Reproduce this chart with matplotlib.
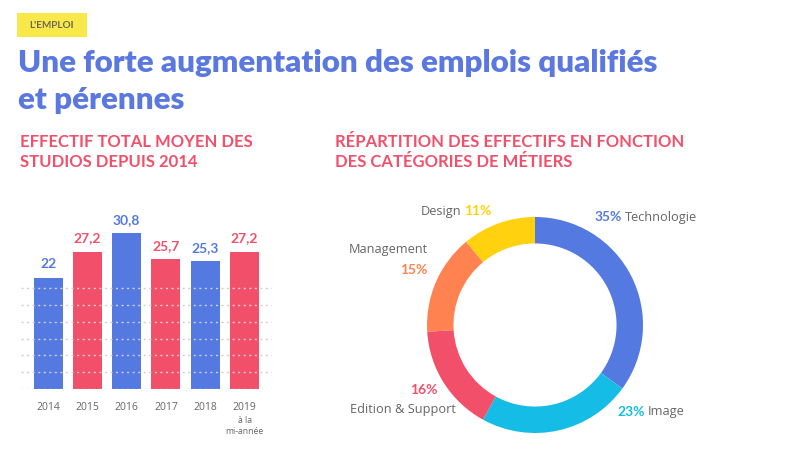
import matplotlib
matplotlib.use("Agg")
import matplotlib.pyplot as plt
from matplotlib.patches import Rectangle
import numpy as np

# ---------------- data ----------------
years = ["2014", "2015", "2016", "2017", "2018", "2019"]
year_notes = ["", "", "", "", "", "à la\nmi-année"]
effectif = [22, 27.2, 30.8, 25.7, 25.3, 27.2]
value_labels = ["22", "27,2", "30,8", "25,7", "25,3", "27,2"]

categories = ["Technologie", "Image", "Edition & Support", "Management", "Design"]
shares = [35, 23, 16, 15, 11]

# ---------------- style ----------------
W, H = 790, 450
BLUE = "#5479E0"
RED = "#F2506A"
CYAN = "#15BDE6"
ORANGE = "#FF8250"
YELLOW = "#FFD10F"
TITLE_BLUE = "#5A78E0"
GRAY = "#666666"
bar_colors = [BLUE, RED, BLUE, RED, BLUE, RED]
donut_colors = [BLUE, CYAN, RED, ORANGE, YELLOW]

TITLE_FONT = ["Lato", "DejaVu Sans"]
BODY_FONT = ["Open Sans", "DejaVu Sans"]

fig = plt.figure(figsize=(W / 100, H / 100), dpi=100)
fig.patch.set_facecolor("white")


def fx(x):
    return x / W


def fy(y):
    return 1 - y / H


# ---------------- header ----------------
fig.patches.append(Rectangle((fx(17), fy(37)), (87 - 17) / W, (37 - 13) / H,
                             transform=fig.transFigure, facecolor="#F8E84A",
                             edgecolor="none"))
fig.text(fx(52), fy(25.5), "L'EMPLOI", fontsize=7.2, fontweight="bold",
         color="#6B6A55", ha="center", va="center", family=TITLE_FONT)

fig.text(fx(18), fy(63), "Une forte augmentation des emplois qualifiés",
         fontsize=22.5, fontweight="heavy", color=TITLE_BLUE, ha="left",
         va="center", family=TITLE_FONT)
fig.text(fx(18), fy(100), "et pérennes",
         fontsize=22.5, fontweight="heavy", color=TITLE_BLUE, ha="left",
         va="center", family=TITLE_FONT)

for x0, lines in [(20, ["EFFECTIF TOTAL MOYEN DES", "STUDIOS DEPUIS 2014"]),
                  (335, ["RÉPARTITION DES EFFECTIFS EN FONCTION",
                         "DES CATÉGORIES DE MÉTIERS"])]:
    for yy, line in zip([142, 162], lines):
        fig.text(fx(x0), fy(yy), line, fontsize=12, fontweight="bold",
                 color=RED, ha="left", va="center", family=TITLE_FONT)

# ---------------- bar chart ----------------
ax_l, ax_r, ax_b, ax_t = 21, 272, 389, 200
ax = fig.add_axes([fx(ax_l), fy(ax_b), (ax_r - ax_l) / W, (ax_b - ax_t) / H])
x = np.arange(len(years))
ax.bar(x, effectif, width=0.74, color=bar_colors, zorder=1)
ax.set_xlim(-0.69, 5.7)
ax.set_ylim(0, (ax_b - ax_t) / 5.05)
for yv in np.arange(0, 21, 10 / 3):
    ax.axhline(yv, color="#D0D0D0", lw=1, ls=(0, (1.5, 2.5)), zorder=2)
for xi, v, lab, c in zip(x, effectif, value_labels, bar_colors):
    ax.text(xi, v + 1.5, lab, ha="center", va="bottom", fontsize=10,
            fontweight="bold", color=c, family=TITLE_FONT)
ax.set_xticks(x)
ax.set_xticklabels(years, fontsize=7.5, color=GRAY, family=BODY_FONT)
ax.tick_params(axis="x", length=0, pad=9)
ax.set_yticks([])
for s in ax.spines.values():
    s.set_visible(False)
for xi, note in zip(x, year_notes):
    if note:
        ax.annotate(note, xy=(xi, 0), xycoords="data", xytext=(0, -19.5),
                    textcoords="offset points", ha="center", va="top",
                    fontsize=6.2, color=GRAY, family=BODY_FONT, linespacing=1.25)

# ---------------- donut ----------------
cx, cy, r = 535, 325, 108
dax = fig.add_axes([fx(cx - r), fy(cy + r), 2 * r / W, 2 * r / H])
dax.pie(shares, colors=donut_colors, startangle=90, counterclock=False,
        wedgeprops=dict(width=0.245, edgecolor="none"), radius=1.0)
dax.set_xlim(-1, 1)
dax.set_ylim(-1, 1)
dax.set_aspect("equal")
dax.axis("off")

pct = [f"{s}%" for s in shares]
fs_pct = 10
fs_lab = 9.2

# Technologie
fig.text(fx(622), fy(217), pct[0], fontsize=fs_pct, fontweight="bold",
         color=BLUE, ha="right", va="center", family=TITLE_FONT)
fig.text(fx(625), fy(217), categories[0], fontsize=fs_lab, color=GRAY,
         ha="left", va="center", family=BODY_FONT)
# Image
fig.text(fx(645), fy(412), pct[1], fontsize=fs_pct, fontweight="bold",
         color=CYAN, ha="right", va="center", family=TITLE_FONT)
fig.text(fx(648), fy(412), categories[1], fontsize=fs_lab, color=GRAY,
         ha="left", va="center", family=BODY_FONT)
# Edition & Support
fig.text(fx(438), fy(390), pct[2], fontsize=fs_pct, fontweight="bold",
         color=RED, ha="right", va="center", family=TITLE_FONT)
fig.text(fx(456), fy(410), categories[2], fontsize=fs_lab, color=GRAY,
         ha="right", va="center", family=BODY_FONT)
# Management
fig.text(fx(428), fy(250), categories[3], fontsize=fs_lab, color=GRAY,
         ha="right", va="center", family=BODY_FONT)
fig.text(fx(427), fy(270), pct[3], fontsize=fs_pct, fontweight="bold",
         color=ORANGE, ha="right", va="center", family=TITLE_FONT)
# Design
fig.text(fx(461), fy(211), categories[4], fontsize=fs_lab, color=GRAY,
         ha="right", va="center", family=BODY_FONT)
fig.text(fx(464), fy(211), pct[4], fontsize=fs_pct, fontweight="bold",
         color=YELLOW, ha="left", va="center", family=TITLE_FONT)

fig.savefig("out.png", dpi=100, facecolor="white")
